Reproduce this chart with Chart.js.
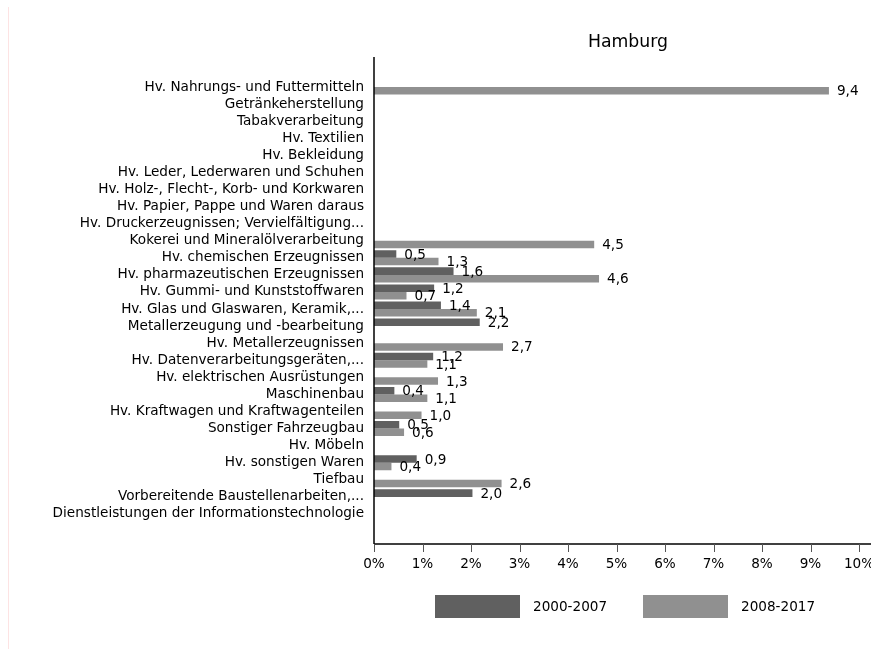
<!DOCTYPE html>
<html>
<head>
<meta charset="utf-8">
<script src="https://cdn.jsdelivr.net/npm/chart.js@4.4.1/dist/chart.umd.min.js"></script>
<style>
  html, body { margin: 0; padding: 0; background: #fff; }
  #wrap { position: relative; width: 871px; height: 649px; }
</style>
</head>
<body>
<div id="wrap"><canvas id="chart" width="871" height="649"></canvas></div>
<script>
const chartTitle = 'Hamburg';

const categories = [
    'Hv. Nahrungs- und Futtermitteln',
    'Getränkeherstellung',
    'Tabakverarbeitung',
    'Hv. Textilien',
    'Hv. Bekleidung',
    'Hv. Leder, Lederwaren und Schuhen',
    'Hv. Holz-, Flecht-, Korb- und Korkwaren',
    'Hv. Papier, Pappe und Waren daraus',
    'Hv. Druckerzeugnissen; Vervielfältigung...',
    'Kokerei und Mineralölverarbeitung',
    'Hv. chemischen Erzeugnissen',
    'Hv. pharmazeutischen Erzeugnissen',
    'Hv. Gummi- und Kunststoffwaren',
    'Hv. Glas und Glaswaren, Keramik,...',
    'Metallerzeugung und -bearbeitung',
    'Hv. Metallerzeugnissen',
    'Hv. Datenverarbeitungsgeräten,...',
    'Hv. elektrischen Ausrüstungen',
    'Maschinenbau',
    'Hv. Kraftwagen und Kraftwagenteilen',
    'Sonstiger Fahrzeugbau',
    'Hv. Möbeln',
    'Hv. sonstigen Waren',
    'Tiefbau',
    'Vorbereitende Baustellenarbeiten,...',
    'Dienstleistungen der Informationstechnologie'
];

// share in percent, null = no bar
const period1 = [null, null, null, null, null, null, null, null, null, null,
    0.46, 1.64, 1.24, 1.38, 2.18, null, 1.22, null, 0.42, null,
    0.52, null, 0.88, null, 2.03, null];
const period2 = [9.38, null, null, null, null, null, null, null, null, 4.54,
    1.33, 4.64, 0.67, 2.12, null, 2.66, 1.1, 1.32, 1.1, 0.98,
    0.62, null, 0.36, 2.63, null, null];

const seriesNames = ['2000-2007', '2008-2017'];
const seriesColors = ['#606060', '#909090'];
const xTicks = [0, 1, 2, 3, 4, 5, 6, 7, 8, 9, 10];

const FONT = '"DejaVu Sans", Verdana, sans-serif';

function fmt(v) {
    return v.toFixed(1).replace('.', ',');
}

// axis lines, tick marks, value labels, title, legend and the thin frame line
const extrasPlugin = {
    id: 'extras',
    afterDraw(chart) {
        const ctx = chart.ctx;
        const area = chart.chartArea;
        const xs = chart.scales.x;
        const axisTop = area.top - 21.5;
        const axisY = area.bottom + 21.5;

        ctx.save();

        // faint frame line on the left
        ctx.strokeStyle = '#fde3e3';
        ctx.lineWidth = 1;
        ctx.beginPath();
        ctx.moveTo(8.5, 7);
        ctx.lineTo(8.5, chart.height);
        ctx.stroke();

        // y axis
        ctx.strokeStyle = '#000';
        ctx.lineWidth = 1.5;
        ctx.beginPath();
        ctx.moveTo(area.left, axisTop);
        ctx.lineTo(area.left, axisY);
        ctx.stroke();

        // x axis
        ctx.beginPath();
        ctx.moveTo(area.left, axisY);
        ctx.lineTo(chart.width, axisY);
        ctx.stroke();

        // tick marks
        ctx.strokeStyle = '#555';
        ctx.lineWidth = 1;
        xTicks.forEach(t => {
            const px = Math.round(xs.getPixelForValue(t)) + 0.5;
            ctx.beginPath();
            ctx.moveTo(px, axisY);
            ctx.lineTo(px, axisY + 8);
            ctx.stroke();
        });

        // value labels
        ctx.fillStyle = '#000';
        ctx.font = '13.6px ' + FONT;
        ctx.textAlign = 'left';
        ctx.textBaseline = 'middle';
        chart.data.datasets.forEach((ds, di) => {
            const meta = chart.getDatasetMeta(di);
            meta.data.forEach((bar, i) => {
                const v = ds.data[i];
                if (v === null) return;
                ctx.fillText(fmt(v), bar.x + 8, bar.y + 1);
            });
        });

        // title
        ctx.font = '17.3px ' + FONT;
        ctx.textAlign = 'center';
        ctx.fillText(chartTitle, 628, 43);

        // legend
        const legendY = 595;
        const legendX = [435, 643];
        ctx.font = '13.6px ' + FONT;
        ctx.textAlign = 'left';
        seriesNames.forEach((name, i) => {
            ctx.fillStyle = seriesColors[i];
            ctx.fillRect(legendX[i], legendY, 85, 23);
            ctx.fillStyle = '#000';
            ctx.fillText(name, legendX[i] + 98, legendY + 12);
        });

        ctx.restore();
    }
};

new Chart(document.getElementById('chart'), {
    type: 'bar',
    data: {
        labels: categories,
        datasets: [
            {
                label: seriesNames[0],
                data: period1,
                backgroundColor: seriesColors[0],
                categoryPercentage: 0.88,
                barPercentage: 1.0
            },
            {
                label: seriesNames[1],
                data: period2,
                backgroundColor: seriesColors[1],
                categoryPercentage: 0.88,
                barPercentage: 1.0
            }
        ]
    },
    options: {
        indexAxis: 'y',
        responsive: false,
        animation: false,
        layout: {
            padding: { top: 78.5, bottom: 76.5, left: 0, right: 12 }
        },
        scales: {
            x: {
                min: 0,
                max: 10,
                afterFit: (scale) => {
                    scale.height = 50;
                    scale.paddingLeft = 0;
                    scale.paddingRight = 0;
                },
                afterBuildTicks: (scale) => {
                    scale.ticks = xTicks.map(v => ({ value: v }));
                },
                grid: { display: false, drawTicks: false },
                border: { display: false },
                ticks: {
                    padding: 34,
                    color: '#000',
                    font: { family: FONT, size: 13.6 },
                    maxRotation: 0,
                    callback: (v) => v + '%'
                }
            },
            y: {
                afterFit: (scale) => { scale.width = 374; },
                grid: { display: false, drawTicks: false },
                border: { display: false },
                ticks: {
                    padding: 10,
                    color: '#000',
                    autoSkip: false,
                    font: { family: FONT, size: 13.6 }
                }
            }
        },
        plugins: {
            legend: { display: false },
            title: { display: false },
            tooltip: { enabled: false }
        }
    },
    plugins: [extrasPlugin]
});
</script>
</body>
</html>
